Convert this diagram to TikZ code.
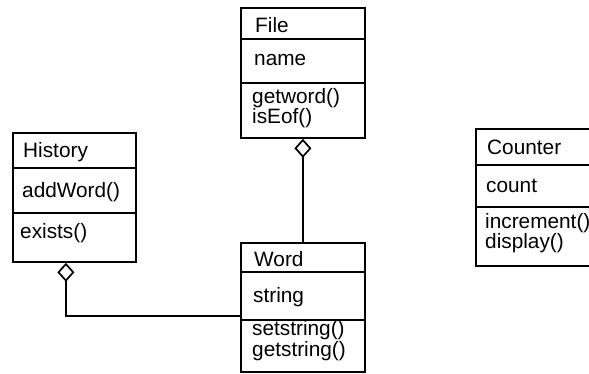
\documentclass[tikz,border=0pt]{standalone}
\usepackage{fontspec}
\setmainfont{Liberation Sans}
\usetikzlibrary{arrows.meta}
\begin{document}
\begin{tikzpicture}[x=1pt,y=-1pt,
  classbox/.style={draw,line width=1.8pt,inner sep=0pt,anchor=north west},
  member/.style={anchor=base west,inner sep=0pt,font=\fontsize{20.8}{21}\selectfont},
  divider/.style={line width=1.8pt},
  agg/.style={line width=1.7pt,{Diamond[open,length=19pt,width=17pt]}-}]
% canvas
\fill[white] (0,0) rectangle (589,373);
\useasboundingbox (0,0) rectangle (589,373);
\clip (0,0) rectangle (589,373);

% class File
\node[classbox,minimum width=124pt,minimum height=130pt] (file) at (240,7) {};
\draw[divider] (file.west |- 0,39) -- (file.east |- 0,39);
\draw[divider] (file.west |- 0,83) -- (file.east |- 0,83);
\node[member] (fname) at (255,32) {File};
\node[member] (fattr) at (254,65) {name};
\node[member] (fop1) at (252,103) {getword()};
\node[member] (fop2) at (252,123) {isEof()};

% class History
\node[classbox,minimum width=123pt,minimum height=129pt] (history) at (12,132) {};
\draw[divider] (history.west |- 0,168) -- (history.east |- 0,168);
\draw[divider] (history.west |- 0,213) -- (history.east |- 0,213);
\node[member] (hname) at (23,157) {History};
\node[member] (hop1) at (22,197) {addWord()};
\node[member] (hop2) at (20,238) {exists()};

% class Word
\node[classbox,minimum width=124pt,minimum height=129pt] (word) at (240,242) {};
\draw[divider] (word.west |- 0,272) -- (word.east |- 0,272);
\draw[divider] (word.west |- 0,320) -- (word.east |- 0,320);
\node[member] (wname) at (254,266) {Word};
\node[member] (wattr) at (253,302) {string};
\node[member] (wop1) at (252,335) {setstring()};
\node[member] (wop2) at (252,356) {getstring()};

% class Counter (runs past the right edge)
\node[classbox,minimum width=125pt,minimum height=137pt] (counter) at (475,128) {};
\draw[divider] (counter.west |- 0,165) -- (counter.east |- 0,165);
\draw[divider] (counter.west |- 0,207) -- (counter.east |- 0,207);
\node[member] (cname) at (487,154) {Counter};
\node[member] (cattr) at (486,192) {count};
\node[member] (cop1) at (485,228) {increment()};
\node[member] (cop2) at (485,248) {display()};

% aggregations
\draw[agg] (file.south) -- (word.north);
\draw[agg] ([xshift=-8.5pt]history.south) |- ([yshift=-8.5pt]word.west);
\end{tikzpicture}
\end{document}
